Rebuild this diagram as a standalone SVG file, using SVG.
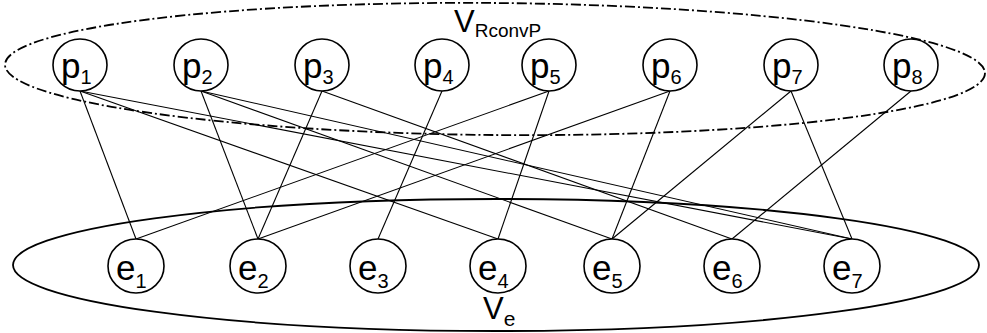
<svg xmlns="http://www.w3.org/2000/svg" width="987" height="333" viewBox="0 0 987 333">
<style>
.node{fill:#fff;stroke:#000;stroke-width:1.6}
.lbl{font-family:"Liberation Sans",Arial,sans-serif;font-size:35px;fill:#000}
.sub{font-size:20px}
.edge{stroke:#000;stroke-width:1.1;fill:none}
.set{fill:none;stroke:#000;stroke-width:1.8}
.dd{stroke-dasharray:10 3 2 3}
.vl{font-family:"Liberation Sans",Arial,sans-serif;font-size:31px;fill:#000}
</style>
<rect width="987" height="333" fill="#fff"/>
<g id="sets">
<ellipse id="V_RconvP" class="set dd" cx="495" cy="69" rx="490" ry="66" transform="rotate(0.5 495 69)"/>
<ellipse id="V_e" class="set" cx="496" cy="265" rx="483" ry="66"/>
</g>
<g id="connectors">
<line class="edge" x1="80" y1="91" x2="136" y2="239"/>
<line class="edge" x1="80" y1="91" x2="498" y2="239"/>
<line class="edge" x1="80" y1="91" x2="852" y2="239"/>
<line class="edge" x1="201" y1="91" x2="258" y2="239"/>
<line class="edge" x1="201" y1="91" x2="612" y2="239"/>
<line class="edge" x1="201" y1="91" x2="852" y2="239"/>
<line class="edge" x1="322" y1="91" x2="258" y2="239"/>
<line class="edge" x1="322" y1="91" x2="732" y2="239"/>
<line class="edge" x1="442" y1="91" x2="378" y2="239"/>
<line class="edge" x1="549" y1="91" x2="136" y2="239"/>
<line class="edge" x1="549" y1="91" x2="498" y2="239"/>
<line class="edge" x1="670" y1="91" x2="258" y2="239"/>
<line class="edge" x1="670" y1="91" x2="612" y2="239"/>
<line class="edge" x1="791" y1="91" x2="612" y2="239"/>
<line class="edge" x1="791" y1="91" x2="852" y2="239"/>
<line class="edge" x1="911" y1="91" x2="732" y2="239"/>
</g>
<g id="p1"><ellipse class="node" cx="80" cy="65" rx="27" ry="26"/><text class="lbl" x="61" y="78">p<tspan class="sub" dy="6">1</tspan></text></g>
<g id="p2"><ellipse class="node" cx="201" cy="65" rx="27" ry="26"/><text class="lbl" x="182" y="78">p<tspan class="sub" dy="6">2</tspan></text></g>
<g id="p3"><ellipse class="node" cx="322" cy="65" rx="27" ry="26"/><text class="lbl" x="303" y="78">p<tspan class="sub" dy="6">3</tspan></text></g>
<g id="p4"><ellipse class="node" cx="442" cy="65" rx="27" ry="26"/><text class="lbl" x="423" y="78">p<tspan class="sub" dy="6">4</tspan></text></g>
<g id="p5"><ellipse class="node" cx="549" cy="65" rx="27" ry="26"/><text class="lbl" x="530" y="78">p<tspan class="sub" dy="6">5</tspan></text></g>
<g id="p6"><ellipse class="node" cx="670" cy="65" rx="27" ry="26"/><text class="lbl" x="651" y="78">p<tspan class="sub" dy="6">6</tspan></text></g>
<g id="p7"><ellipse class="node" cx="791" cy="65" rx="27" ry="26"/><text class="lbl" x="772" y="78">p<tspan class="sub" dy="6">7</tspan></text></g>
<g id="p8"><ellipse class="node" cx="911" cy="65" rx="27" ry="26"/><text class="lbl" x="892" y="78">p<tspan class="sub" dy="6">8</tspan></text></g>
<g id="e1"><ellipse class="node" cx="136" cy="266" rx="28" ry="27"/><text class="lbl" x="116" y="280">e<tspan class="sub" dy="8">1</tspan></text></g>
<g id="e2"><ellipse class="node" cx="258" cy="266" rx="28" ry="27"/><text class="lbl" x="238" y="280">e<tspan class="sub" dy="8">2</tspan></text></g>
<g id="e3"><ellipse class="node" cx="378" cy="266" rx="28" ry="27"/><text class="lbl" x="358" y="280">e<tspan class="sub" dy="8">3</tspan></text></g>
<g id="e4"><ellipse class="node" cx="498" cy="266" rx="28" ry="27"/><text class="lbl" x="478" y="280">e<tspan class="sub" dy="8">4</tspan></text></g>
<g id="e5"><ellipse class="node" cx="612" cy="266" rx="28" ry="27"/><text class="lbl" x="592" y="280">e<tspan class="sub" dy="8">5</tspan></text></g>
<g id="e6"><ellipse class="node" cx="732" cy="266" rx="28" ry="27"/><text class="lbl" x="712" y="280">e<tspan class="sub" dy="8">6</tspan></text></g>
<g id="e7"><ellipse class="node" cx="852" cy="266" rx="28" ry="27"/><text class="lbl" x="832" y="280">e<tspan class="sub" dy="8">7</tspan></text></g>
<g id="labels">
<text class="vl" x="454" y="32">V<tspan font-size="19" dy="5">RconvP</tspan></text>
<text class="vl" x="483" y="319">V<tspan font-size="21" dy="7">e</tspan></text>
</g>
</svg>
